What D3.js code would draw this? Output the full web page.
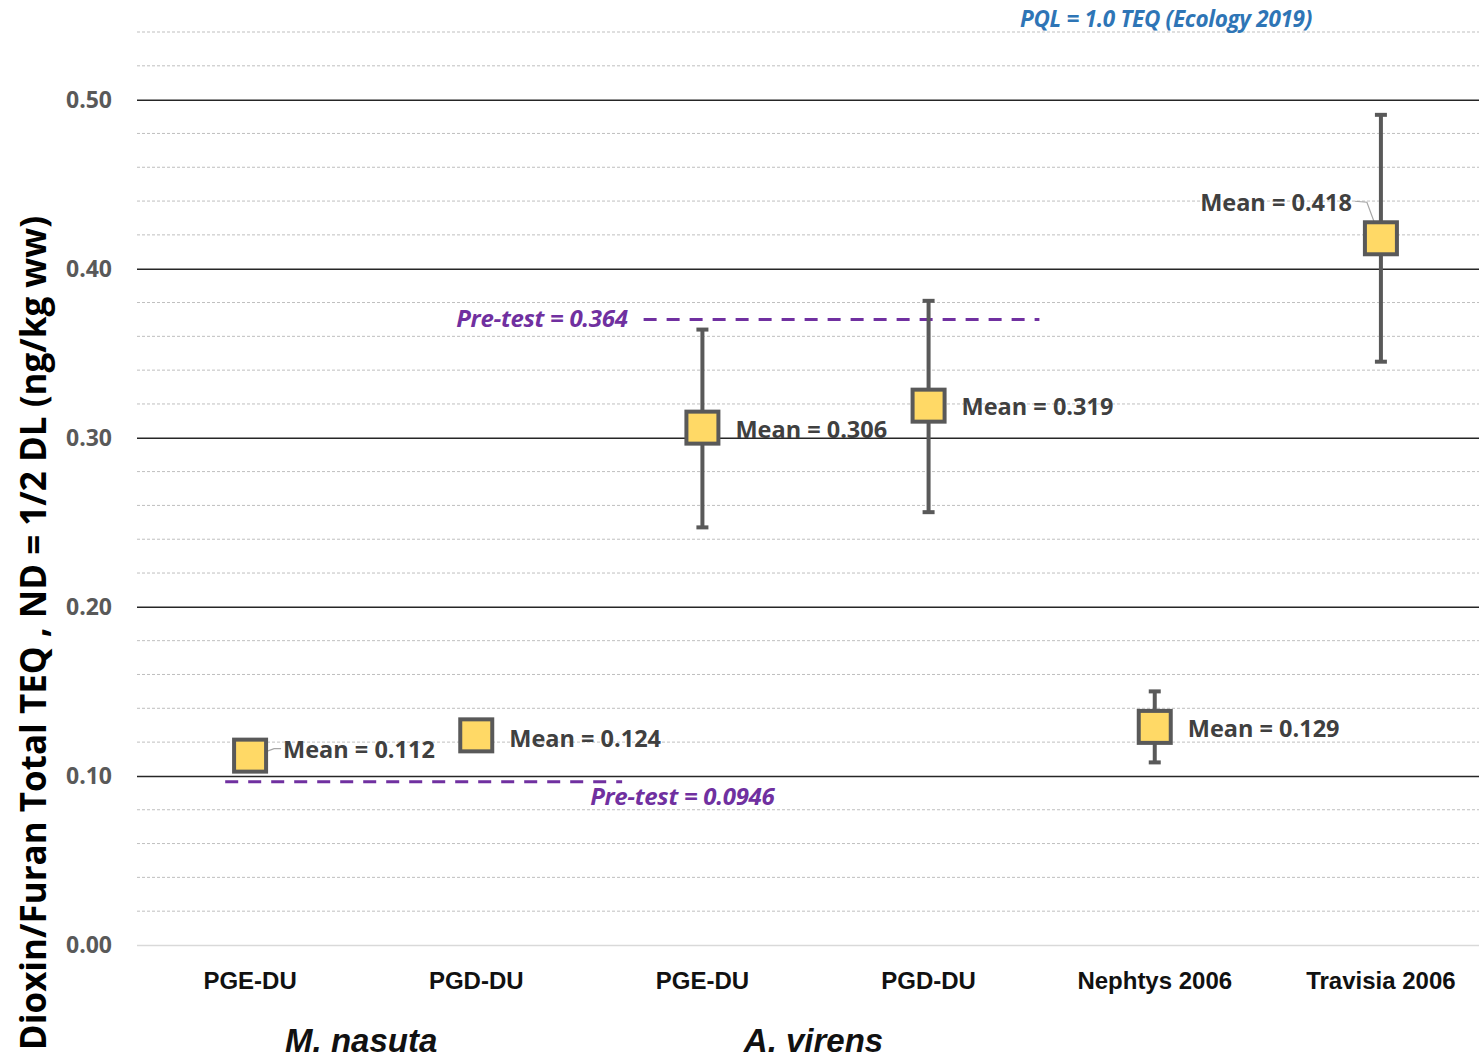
<!DOCTYPE html>
<meta charset=utf-8>
<script src="https://cdn.jsdelivr.net/npm/d3@7/dist/d3.min.js"></script>
<style>
body { margin: 0; background: white }
</style>
<body>
<svg width=1479 height=1058 id=chart></svg>
</body>
<script>
// data
const categories = ["PGE-DU", "PGD-DU", "PGE-DU", "PGD-DU", "Nephtys 2006", "Travisia 2006"];
const means = [0.112, 0.124, 0.306, 0.319, 0.129, 0.418];
const lows = [null, null, 0.247, 0.256, 0.108, 0.345];
const highs = [null, null, 0.364, 0.381, 0.150, 0.491];
const groups = [["M. nasuta", 0, 1], ["A. virens", 2, 3]];
const preTestValues = [0.364, 0.0946];
// level at which each pre-test line is drawn in the original, and its span in category units
const preTestDrawn = [0.370, 0.0965];
const preTestSpans = [[1.74, 3.49], [-0.11, 1.645]];
const yTicks = [0, 0.1, 0.2, 0.3, 0.4, 0.5];
const pqlText = "PQL = 1.0 TEQ (Ecology 2019)";

// label placement (dx, dy from marker centre)
const labelPos = [[33, -6, "start"], [33, 3, "start"], [33, 2, "start"], [33, 1, "start"], [33, 2, "start"], [-29, -36, "end"]];

const margin = {top: 32, left: 137, bottom: 113};
const W = 1479, H = 1058;
const svg = d3.select("#chart");
const font = "'Open Sans', sans-serif";
const narrow = "'Liberation Sans Narrow', 'Liberation Sans', sans-serif";

const y = d3.scaleLinear().domain([0, 0.54]).range([H - margin.bottom, margin.top]);
const x = d3.scaleBand().domain(d3.range(categories.length)).range([margin.left, 1494]);
const xc = i => x(i) + x.bandwidth() / 2;
const xl = d3.scaleLinear().domain([0, 1]).range([xc(0), xc(1)]);

// minor grid
svg.append("g")
	.selectAll("line")
	.data(d3.range(1, 28).map(i => i * 0.02).filter(v => Math.abs(v * 10 - Math.round(v * 10)) > 1e-6))
	.join("line")
		.attr("x1", margin.left).attr("x2", W)
		.attr("y1", d => y(d)).attr("y2", d => y(d))
		.attr("stroke", "#bfbfbf").attr("stroke-width", 1).attr("stroke-dasharray", "3,2");

// major grid + y axis labels
svg.append("g")
	.attr("transform", `translate(${margin.left},0)`)
	.call(d3.axisLeft(y).tickValues(yTicks).tickFormat(d3.format(".2f")).tickSize(-(W - margin.left)).tickPadding(25))
	.call(g => g.select(".domain").remove())
	.call(g => g.selectAll(".tick line")
		.attr("stroke", d => d === 0 ? "#d9d9d9" : "#262626")
		.attr("stroke-width", 1.5))
	.call(g => g.selectAll(".tick text")
		.attr("fill", "#595959").attr("font-family", font).attr("font-weight", "bold").attr("font-size", "23px"));

// y title
svg.append("text")
	.attr("transform", `translate(46,${633}) rotate(-90)`)
	.attr("text-anchor", "middle")
	.attr("font-family", font).attr("font-weight", "bold").attr("font-size", "35px")
	.attr("fill", "#000")
	.text("Dioxin/Furan Total TEQ , ND = 1/2 DL (ng/kg ww)");

// category labels
svg.append("g")
	.selectAll("text")
	.data(categories)
	.join("text")
		.attr("x", (d, i) => xc(i)).attr("y", 989)
		.attr("text-anchor", "middle")
		.attr("font-family", narrow).attr("font-weight", "bold").attr("font-size", "24px")
		.attr("fill", "#111")
		.text(d => d);

// group labels
svg.append("g")
	.selectAll("text")
	.data(groups)
	.join("text")
		.attr("x", d => (xc(d[1]) + xc(d[2])) / 2 - 2).attr("y", 1052)
		.attr("text-anchor", "middle")
		.attr("font-family", narrow).attr("font-weight", "bold").attr("font-style", "italic").attr("font-size", "33px")
		.attr("fill", "#111")
		.text(d => d[0]);

// PQL label
svg.append("text")
	.attr("x", 1020).attr("y", 27)
	.attr("font-family", font).attr("font-weight", "bold").attr("font-style", "italic").attr("font-size", "22.5px")
	.attr("fill", "#2e75b6").attr("letter-spacing", "-0.3px")
	.text(pqlText);

// pre-test lines
const pre = svg.append("g");
pre.selectAll("line")
	.data(preTestDrawn)
	.join("line")
		.attr("x1", (d, i) => xl(preTestSpans[i][0])).attr("x2", (d, i) => xl(preTestSpans[i][1]))
		.attr("y1", d => y(d)).attr("y2", d => y(d))
		.attr("stroke", "#7030a0").attr("stroke-width", 3).attr("stroke-dasharray", "13,10");
pre.selectAll("text")
	.data(preTestValues)
	.join("text")
		.attr("x", (d, i) => i === 0 ? xl(preTestSpans[i][0]) - 16 : xl(preTestSpans[i][1]) - 32)
		.attr("y", (d, i) => i === 0 ? y(preTestDrawn[i]) + 8 : y(preTestDrawn[i]) + 23)
		.attr("text-anchor", (d, i) => i === 0 ? "end" : "start")
		.attr("font-family", font).attr("font-weight", "bold").attr("font-style", "italic").attr("font-size", "24px")
		.attr("letter-spacing", "-0.3px")
		.attr("fill", "#7030a0")
		.text(d => `Pre-test = ${d}`);

// error bars
const eb = svg.append("g").attr("stroke", "#595959").attr("stroke-width", 4);
const withErr = d3.range(means.length).filter(i => lows[i] !== null);
eb.selectAll("line.v").data(withErr).join("line").attr("class", "v")
	.attr("x1", xc).attr("x2", xc).attr("y1", i => y(lows[i])).attr("y2", i => y(highs[i]));
eb.selectAll("line.lo").data(withErr).join("line").attr("class", "lo")
	.attr("x1", i => xc(i) - 6).attr("x2", i => xc(i) + 6).attr("y1", i => y(lows[i])).attr("y2", i => y(lows[i]));
eb.selectAll("line.hi").data(withErr).join("line").attr("class", "hi")
	.attr("x1", i => xc(i) - 6).attr("x2", i => xc(i) + 6).attr("y1", i => y(highs[i])).attr("y2", i => y(highs[i]));

// leader lines
const lead = svg.append("g").attr("stroke", "#a6a6a6").attr("stroke-width", 1.2).attr("fill", "none");
lead.append("path").attr("d", `M${xc(0)},${y(means[0]) + 2} L${xc(0) + 24},${y(means[0]) - 7} L${xc(0) + 31},${y(means[0]) - 7}`);
lead.append("path").attr("d", `M${xc(5) - 26},${y(means[5]) - 37} L${xc(5) - 14},${y(means[5]) - 36} L${xc(5)},${y(means[5]) + 2}`);

// markers
svg.append("g")
	.selectAll("rect")
	.data(means)
	.join("rect")
		.attr("x", (d, i) => xc(i) - 16).attr("y", d => y(d) - 16)
		.attr("width", 32).attr("height", 32)
		.attr("fill", "#ffd966").attr("stroke", "#595959").attr("stroke-width", 4);

// mean labels
svg.append("g")
	.selectAll("text")
	.data(means)
	.join("text")
		.attr("x", (d, i) => xc(i) + labelPos[i][0])
		.attr("y", (d, i) => y(d) + labelPos[i][1])
		.attr("dy", "0.36em")
		.attr("text-anchor", (d, i) => labelPos[i][2])
		.attr("font-family", font).attr("font-weight", "bold").attr("font-size", "23.5px")
		.attr("fill", "#404040")
		.text(d => `Mean = ${d.toFixed(3)}`);
</script>
